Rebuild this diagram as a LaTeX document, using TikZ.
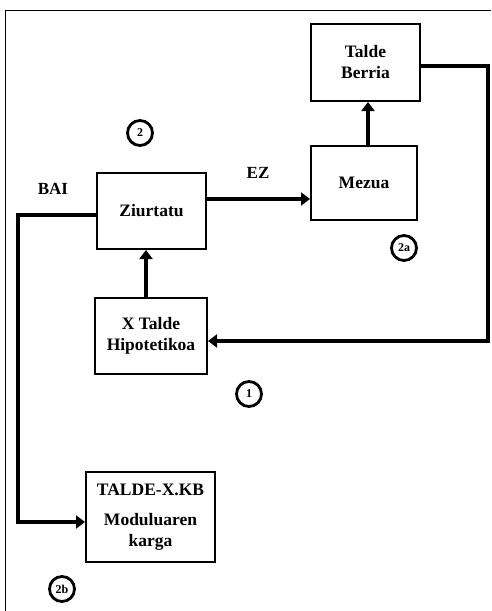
\documentclass[tikz,border=0pt]{standalone}
\usepackage{fontspec}
\setmainfont{Liberation Serif}
\usetikzlibrary{arrows.meta}
\begin{document}
\begin{tikzpicture}[x=1pt,y=-1pt,
  box/.style={draw,line width=2pt,inner sep=0pt,align=center,font=\bfseries\fontsize{17.5}{21}\selectfont},
  flow/.style={line width=4pt,-{Triangle[length=9pt,width=13pt]}},
  lbl/.style={font=\bfseries\fontsize{17}{20}\selectfont},
  mark circle/.style={circle,draw,line width=2.8pt,minimum size=25pt,inner sep=0pt,font=\bfseries\fontsize{12}{12}\selectfont}]
  \useasboundingbox (0,0) rectangle (491,611);
  % outer frame (left and top edges)
  \draw[line width=1pt] (5,611) -- (5,10) -- (491,10);

  % boxes
  \node[box,minimum width=109pt,minimum height=77pt] (berria) at (365.5,62.5) {Talde\\Berria};
  \node[box,minimum width=106pt,minimum height=74pt] (mezua) at (364,183) {Mezua};
  \node[box,minimum width=109pt,minimum height=76pt] (ziur) at (151.5,211) {Ziurtatu};
  \node[box,minimum width=112pt,minimum height=76pt] (hipo) at (151,336) {X Talde\\Hipotetikoa};
  \node[box,minimum width=129pt,minimum height=90pt,align=center] (kb) at (150.5,517)
    {TALDE-X.KB\\[9pt]Moduluaren\\karga};

  % connectors
  \coordinate (r1) at (488,66);
  \coordinate (r2) at (488,341);
  \coordinate (l1) at (18,215);
  \coordinate (l2) at (18,522);
  \draw[flow] (ziur.east |- 0,199) -- (mezua.west |- 0,199);
  \draw[flow] (368,0 |- mezua.north) -- (368,0 |- berria.south);
  \draw[flow] (berria.east |- r1) -- (r1) -- (r2) -- (hipo.east |- r2);
  \draw[flow] (146,0 |- hipo.north) -- (146,0 |- ziur.south);
  \draw[flow] (ziur.west |- l1) -- (l1) -- (l2) -- (kb.west |- l2);

  % labels
  \node[lbl] (bai) at (53,189) {BAI};
  \node[lbl] (ez) at (258,173) {EZ};
  \node[mark circle] (m2) at (140,133) {2};
  \node[mark circle] (m2a) at (404,248) {2a};
  \node[mark circle] (m1) at (249,394) {1};
  \node[mark circle] (m2b) at (62,589) {2b};
\end{tikzpicture}
\end{document}
